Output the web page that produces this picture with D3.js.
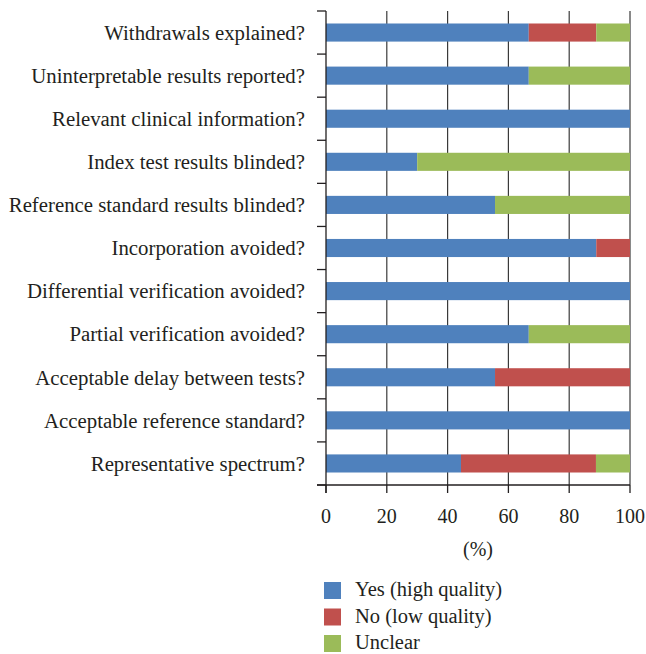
<!DOCTYPE html>
<html>
<head>
<meta charset="utf-8">
<script src="https://cdn.jsdelivr.net/npm/d3@7"></script>
<style>
  html, body { margin: 0; padding: 0; background: #fff; }
  svg { display: block; }
  text { font-family: "Liberation Serif", "DejaVu Serif", serif; fill: #231f20; }
</style>
</head>
<body>
<svg id="chart" width="646" height="654"></svg>
<script>
// QUADAS quality items, top to bottom
const categories = [
  "Withdrawals explained?",
  "Uninterpretable results reported?",
  "Relevant clinical information?",
  "Index test results blinded?",
  "Reference standard results blinded?",
  "Incorporation avoided?",
  "Differential verification avoided?",
  "Partial verification avoided?",
  "Acceptable delay between tests?",
  "Acceptable reference standard?",
  "Representative spectrum?"
];
// Percent of studies per answer
const yesValues     = [66.7, 66.7, 100, 30, 55.6, 88.9, 100, 66.7, 55.6, 100, 44.4];
const noValues      = [22.2, 0,    0,   0,  0,    11.1, 0,   0,    44.4, 0,   44.4];
const unclearValues = [11.1, 33.3, 0,   70, 44.4, 0,    0,   33.3, 0,    0,   11.2];
const seriesNames   = ["Yes (high quality)", "No (low quality)", "Unclear"];
const seriesColors  = ["#4F81BD", "#C0504D", "#9BBB59"];
const xTicks        = [0, 20, 40, 60, 80, 100];

const rows = categories.map((c, i) => ({
  category: c,
  yes: yesValues[i],
  no: noValues[i],
  unclear: unclearValues[i]
}));
const keys = ["yes", "no", "unclear"];
const stack = d3.stack().keys(keys)(rows);

const svg = d3.select("#chart");
const plotTop = 11, plotBottom = 485;

const x = d3.scaleLinear().domain([0, 100]).range([326, 630]);
const y = d3.scaleBand().domain(categories).range([plotTop, plotBottom]).paddingInner(0.58).paddingOuter(0.29);
const yEdges = d3.scaleBand().domain(categories).range([plotTop, plotBottom]);

// vertical gridlines
svg.append("g")
  .selectAll("line")
  .data(xTicks.filter(t => t > 0))
  .join("line")
  .attr("x1", d => x(d)).attr("x2", d => x(d))
  .attr("y1", plotTop).attr("y2", plotBottom)
  .attr("stroke", "#3a3a3a").attr("stroke-width", 1.2);

// stacked bars
svg.append("g")
  .selectAll("g")
  .data(stack)
  .join("g")
  .attr("fill", (d, i) => seriesColors[i])
  .selectAll("rect")
  .data(d => d)
  .join("rect")
  .attr("x", d => x(d[0]))
  .attr("width", d => Math.max(0, x(d[1]) - x(d[0])))
  .attr("y", d => y(d.data.category))
  .attr("height", y.bandwidth());

// left axis with ticks at category boundaries
const axisColor = "#231f20";
svg.append("line")
  .attr("x1", x(0)).attr("x2", x(0))
  .attr("y1", plotTop).attr("y2", plotBottom + 8)
  .attr("stroke", axisColor).attr("stroke-width", 1.3);
const boundaries = categories.map(c => yEdges(c)).concat([plotBottom]);
svg.append("g")
  .selectAll("line")
  .data(boundaries)
  .join("line")
  .attr("x1", x(0) - 9).attr("x2", x(0))
  .attr("y1", d => d).attr("y2", d => d)
  .attr("stroke", axisColor).attr("stroke-width", 1.3);

svg.append("g")
  .selectAll("text")
  .data(categories)
  .join("text")
  .attr("x", x(0) - 21)
  .attr("y", d => y(d) + y.bandwidth() / 2)
  .attr("dy", "0.35em")
  .attr("text-anchor", "end")
  .attr("font-size", 20.8)
  .text(d => d);

// bottom axis
svg.append("line")
  .attr("x1", x(0) - 9).attr("x2", x(100))
  .attr("y1", plotBottom).attr("y2", plotBottom)
  .attr("stroke", axisColor).attr("stroke-width", 1.3);
svg.append("g")
  .selectAll("line")
  .data(xTicks)
  .join("line")
  .attr("x1", d => x(d)).attr("x2", d => x(d))
  .attr("y1", plotBottom).attr("y2", plotBottom + 8)
  .attr("stroke", axisColor).attr("stroke-width", 1.3);
svg.append("g")
  .selectAll("text")
  .data(xTicks)
  .join("text")
  .attr("x", d => x(d))
  .attr("y", 523)
  .attr("text-anchor", "middle")
  .attr("font-size", 20)
  .text(d => d);

svg.append("text")
  .attr("x", x(50))
  .attr("y", 556)
  .attr("text-anchor", "middle")
  .attr("font-size", 20)
  .text("(%)");

// legend
const legend = svg.append("g").attr("transform", "translate(324,582)");
const items = legend.selectAll("g")
  .data(seriesNames)
  .join("g")
  .attr("transform", (d, i) => `translate(0,${i * 26.5})`);
items.append("rect")
  .attr("width", 17).attr("height", 17)
  .attr("fill", (d, i) => seriesColors[i]);
items.append("text")
  .attr("x", 31)
  .attr("y", 8.5)
  .attr("dy", "0.28em")
  .attr("font-size", 20.5)
  .text(d => d);
</script>
</body>
</html>
